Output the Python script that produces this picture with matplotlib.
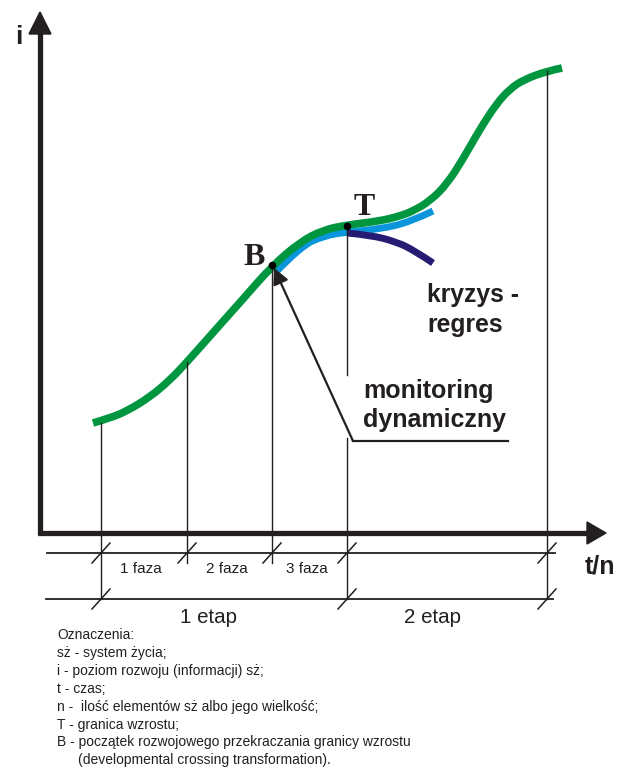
import matplotlib.pyplot as plt
from matplotlib.patches import FancyArrowPatch, PathPatch
from matplotlib.path import Path

plt.rcParams['font.family'] = ['Liberation Sans', 'DejaVu Sans']

# curves, in picture pixels (y grows downwards)
green_x = [93, 110, 127, 150, 170, 187, 210, 243, 272, 300, 323, 347, 380,
           400, 413, 430, 447, 463, 480, 497, 510, 523, 547, 562]
green_y = [423, 418, 411, 397, 380, 362, 336, 299, 266, 242, 230, 225, 221,
           216, 211, 201, 184, 159, 129, 103, 89, 80, 71, 68]
blue_x = [276, 300, 323, 347, 380, 410, 433]
blue_y = [272, 247, 236, 232, 229, 222, 211]
navy_x = [347, 370, 397, 415, 433]
navy_y = [233, 235, 242, 251, 263]

B_pt = (272, 265)
T_pt = (347, 226)

# phase / stage boundaries
phase_x = [101, 187, 272, 347, 547]
phase_top = [423, 362, 266, 226, 71]
phase_labels = ['1 faza', '2 faza', '3 faza']
stage_labels = ['1 etap', '2 etap']
stage_pos = [208, 433]

legend_lines = [
    'Oznaczenia:',
    'sż - system życia;',
    'i - poziom rozwoju (informacji) sż;',
    't - czas;',
    'n -  ilość elementów sż albo jego wielkość;',
    'T - granica wzrostu;',
    'B - początek rozwojowego przekraczania granicy wzrostu',
    '(developmental crossing transformation).',
]


def smooth_path(xs, ys):
    # quadratic spline through the midpoints of the traced points
    pts = list(zip(xs, ys))
    verts = [pts[0]]
    codes = [Path.MOVETO]
    for i in range(1, len(pts) - 1):
        if i == len(pts) - 2:
            end = pts[-1]
        else:
            end = ((pts[i][0] + pts[i + 1][0]) / 2,
                   (pts[i][1] + pts[i + 1][1]) / 2)
        verts += [pts[i], end]
        codes += [Path.CURVE3, Path.CURVE3]
    return Path(verts, codes)


fig = plt.figure(figsize=(6.17, 7.68), dpi=100)
ax = fig.add_axes([0, 0, 1, 1])
ax.set_xlim(0, 617)
ax.set_ylim(768, 0)
ax.axis('off')

dark = '#231f20'

# axes with arrows
ax.plot([40, 40], [535, 32], color=dark, lw=3.8, solid_capstyle='butt')
ax.plot([38, 590], [533, 533], color=dark, lw=3.8, solid_capstyle='butt')
ax.fill([29, 51, 40], [34, 34, 12], color=dark)
ax.fill([587, 587, 606], [522, 544, 533], color=dark)
ax.text(15, 44, 'i', fontsize=19, fontweight='bold', color=dark)
ax.text(585, 574, 't/n', fontsize=18, fontweight='bold', color=dark)

# vertical guide lines
bottoms = [599, 563, 563, 599, 599]
for x, top, bot in zip(phase_x, phase_top, bottoms):
    if x == 347:
        ax.plot([x, x], [top, 375], color=dark, lw=1.0)
        ax.plot([x, x], [438, bot], color=dark, lw=1.0)
    else:
        ax.plot([x, x], [top, bot], color=dark, lw=1.0)

# dimension lines with slash ticks
ax.plot([47, 555], [553, 553], color=dark, lw=1.3)
ax.plot([46, 553], [599, 599], color=dark, lw=1.3)
for x in phase_x:
    ax.plot([x - 9, x + 9], [563, 543], color=dark, lw=1.1)
for x in [101, 347, 547]:
    ax.plot([x - 9, x + 9], [609, 589], color=dark, lw=1.1)

for (a, b), lab in zip(zip(phase_x[:3], phase_x[1:4]), phase_labels):
    ax.text((a + b) / 2 - 3, 573, lab, fontsize=11, ha='center', color=dark)
for pos, lab in zip(stage_pos, stage_labels):
    ax.text(pos, 623, lab, fontsize=14.8, ha='center', color=dark)

# curves
for xs, ys, col, lw in [(blue_x, blue_y, '#0b95db', 5),
                        (navy_x, navy_y, '#261c74', 5),
                        (green_x, green_y, '#00963f', 5.5)]:
    ax.add_patch(PathPatch(smooth_path(xs, ys), fill=False, edgecolor=col,
                           lw=lw, capstyle='butt', joinstyle='round'))

ax.plot(*B_pt, 'o', color='black', ms=4.5)
ax.plot(*T_pt, 'o', color='black', ms=4.5)
ax.text(243, 265, 'B', fontsize=23, fontweight='bold', family='Liberation Serif',
        color=dark)
ax.text(364, 215, 'T', fontsize=23, fontweight='bold', family='Liberation Serif',
        color=dark, ha='center')

ax.text(427, 302, 'kryzys -', fontsize=17.8, fontweight='bold', color=dark)
ax.text(427, 332, 'regres', fontsize=17.8, fontweight='bold', color=dark)
ax.text(363, 398, 'monitoring', fontsize=18, fontweight='bold', color=dark)
ax.text(363, 427, 'dynamiczny', fontsize=18, fontweight='bold', color=dark)

# pointer to B
ax.plot([353, 508], [441, 441], color=dark, lw=1.6)
ax.add_patch(FancyArrowPatch((353, 441), (274, 268), arrowstyle='-|>',
                             mutation_scale=24, color=dark, lw=1.6,
                             shrinkA=0, shrinkB=0))

for i, line in enumerate(legend_lines):
    x = 78 if line.startswith('(') else 57
    ax.text(x, 639 + i * 17.9, line, fontsize=10, color=dark)

fig.savefig('out.png', dpi=100)
